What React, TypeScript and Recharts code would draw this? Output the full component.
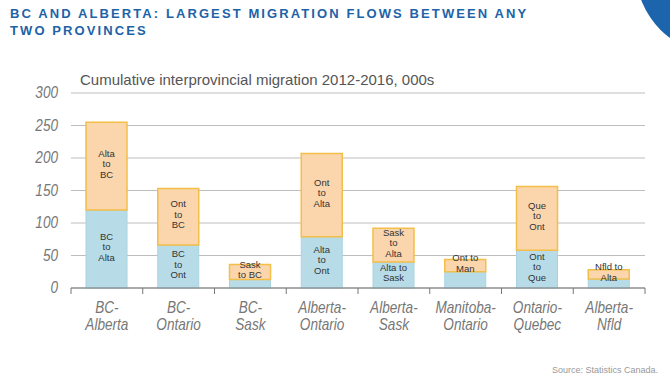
import { BarChart, Bar, XAxis, YAxis, CartesianGrid, LabelList } from 'recharts';

const categories = ['BC-Alberta', 'BC-Ontario', 'BC-Sask', 'Alberta-Ontario', 'Alberta-Sask', 'Manitoba-Ontario', 'Ontario-Quebec', 'Alberta-Nfld'];
// lower (blue) and upper (orange) flows, thousands
const lowerFlow = [120, 66, 13, 79, 40, 25, 58, 14];
const upperFlow = [135, 87, 23, 128, 52, 19, 98, 14];
const lowerLabels = ['BC\nto\nAlta', 'BC\nto\nOnt', '', 'Alta\nto\nOnt', 'Alta to\nSask', '', 'Ont\nto\nQue', ''];
const upperLabels = ['Alta\nto\nBC', 'Ont\nto\nBC', 'Sask\nto BC', 'Ont\nto\nAlta', 'Sask\nto\nAlta', 'Ont to\nMan', 'Que\nto\nOnt', 'Nfld to\nAlta'];
const yTicks = [0, 50, 100, 150, 200, 250, 300];

const data = categories.map((name, i) => ({
    name,
    lower: lowerFlow[i],
    upper: upperFlow[i],
}));

const W = 670;
const H = 385;
const M = { top: 93, right: 25, left: 31, bottom: 52 };
const Y_W = 40;
const PLOT_W = W - M.left - M.right - Y_W;
const BAND = PLOT_W / categories.length;

const sans = "'Liberation Sans', Arial, sans-serif";

function segLabel(labels: string[]) {
    return (props: any) => {
        const { x, y, width, height, index } = props;
        const text = labels[index];
        if (!text) return null;
        const lines = text.split('\n');
        const lh = 10.5;
        const cx = x + width / 2;
        const cy = y + height / 2 - ((lines.length - 1) * lh) / 2 + 1;
        return (
            <text x={cx} y={cy} textAnchor="middle" fontSize={9.5} fill="#333" fontFamily={sans}>
                {lines.map((l: string, k: number) => (
                    <tspan key={k} x={cx} y={cy + k * lh}>{l}</tspan>
                ))}
            </text>
        );
    };
}

// condensed italic look, the original uses a narrow face
function YTick(props: any) {
    const { x, y, payload } = props;
    return (
        <text transform={`translate(${x},${y + 5}) scale(0.85,1)`} textAnchor="end" fontSize={16} fontStyle="italic" fill="#777" fontFamily={sans}>
            {payload.value}
        </text>
    );
}

function CatTick(props: any) {
    const { x, y, payload, index } = props;
    const name: string = payload.value;
    const cut = name.indexOf('-') + 1;
    const left = x - BAND / 2;
    return (
        <g>
            <line x1={left} x2={left} y1={y} y2={y + 6} stroke="#777" />
            {index === categories.length - 1 && (
                <line x1={x + BAND / 2} x2={x + BAND / 2} y1={y} y2={y + 6} stroke="#777" />
            )}
            <text transform={`translate(${x},${y + 25}) scale(0.85,1)`} textAnchor="middle" fontSize={16} fontStyle="italic" fill="#777" fontFamily={sans}>
                <tspan x={0}>{name.slice(0, cut)}</tspan>
                <tspan x={0} dy={17}>{name.slice(cut)}</tspan>
            </text>
        </g>
    );
}

export default function App() {
    return (
        <div style={{ position: 'absolute', left: 0, top: 0, width: W, height: H, background: '#fff', overflow: 'hidden', fontFamily: sans }}>
            <div style={{ position: 'absolute', left: 636, top: -112, width: 166, height: 166, borderRadius: '50%', background: '#1c64ab' }} />
            <div style={{ position: 'absolute', left: 10, top: 5, fontSize: 13, fontWeight: 'bold', letterSpacing: 2.1, lineHeight: '17px', color: '#1d63a8' }}>
                BC AND ALBERTA: LARGEST MIGRATION FLOWS BETWEEN ANY<br />TWO PROVINCES
            </div>
            <div style={{ position: 'absolute', left: 80, top: 71, fontSize: 15, color: '#555' }}>
                Cumulative interprovincial migration 2012-2016, 000s
            </div>
            <div style={{ position: 'absolute', left: 552, top: 365, fontSize: 9, color: '#999' }}>
                Source: Statistics Canada.
            </div>
            <BarChart width={W} height={H} data={data} margin={M} barSize={41} style={{ position: 'absolute', left: 0, top: 0 }}>
                <CartesianGrid vertical={false} stroke="#bdbdbd" />
                <YAxis
                    width={Y_W}
                    domain={[0, 300]}
                    ticks={yTicks}
                    axisLine={false}
                    tickLine={false}
                    tickSize={0}
                    tickMargin={13}
                    tick={<YTick />}
                />
                <XAxis
                    dataKey="name"
                    height={45}
                    interval={0}
                    axisLine={{ stroke: '#777' }}
                    tickLine={false}
                    tickSize={0}
                    tickMargin={0}
                    tick={<CatTick />}
                />
                <Bar dataKey="lower" stackId="a" fill="#b7dce8" stroke="#a9d3e0" isAnimationActive={false}>
                    <LabelList dataKey="lower" content={segLabel(lowerLabels)} />
                </Bar>
                <Bar dataKey="upper" stackId="a" fill="#fbd5ab" stroke="#f4bf48" strokeWidth={1.5} isAnimationActive={false}>
                    <LabelList dataKey="upper" content={segLabel(upperLabels)} />
                </Bar>
            </BarChart>
        </div>
    );
}
